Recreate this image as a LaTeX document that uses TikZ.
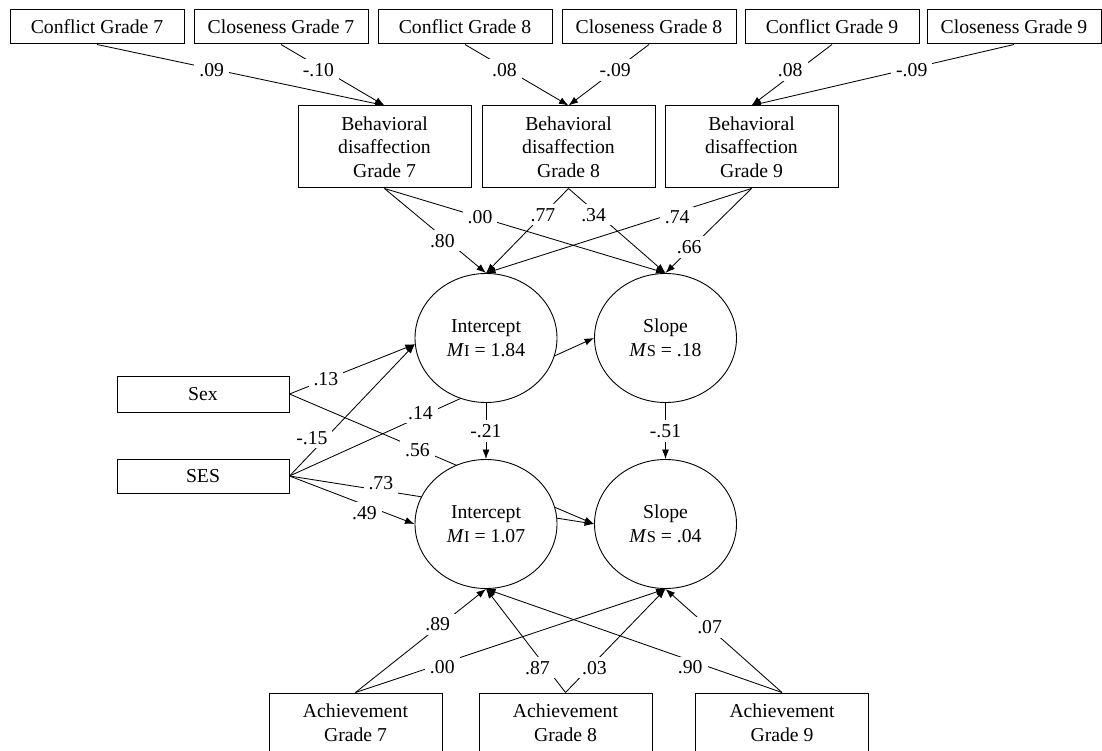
\documentclass[tikz,border=0pt]{standalone}
\usepackage{fontspec}
\setmainfont{Liberation Serif}
\usetikzlibrary{arrows.meta, shapes.geometric, backgrounds}

% small capital after the italic M
\newcommand\subl[1]{{\fontsize{16.5}{18}\selectfont #1}}

\begin{document}
\begin{tikzpicture}[
    x=1pt, y=-1pt, % pixel-like units, y grows downwards
    >={Latex[length=9.5pt, width=7pt]}, % Set default arrow tip style
    font=\fontsize{19.7}{23.5}\selectfont,
    obs/.style={draw, line width=1pt, fill=white, minimum width=174pt,
        minimum height=34pt, inner sep=0pt, align=center}, % observed variables
    tallobs/.style={obs, minimum width=173pt, minimum height=82pt}, % three-line boxes
    latent/.style={draw, ellipse, line width=0.9pt, fill=white, minimum width=142pt,
        minimum height=129pt, inner sep=0pt, align=center}, % growth factors
    link/.style={->, line width=0.85pt}, % Style for paths
    coef/.style={fill=white, inner xsep=5pt, inner ysep=4pt} % Style for coefficients
]
    \useasboundingbox (0,0) rectangle (1102,751);

    % Teacher-student relationship, top row
    \foreach \name/\x/\txt in {cf7/97/Conflict Grade 7, cl7/281/Closeness Grade 7,
        cf8/465/Conflict Grade 8, cl8/649/Closeness Grade 8,
        cf9/832/Conflict Grade 9, cl9/1014/Closeness Grade 9} {
        \node[obs] (\name) at (\x,27) {\txt};
    }

    % Behavioral disaffection
    \foreach \name/\x/\g in {bd7/384.5/7, bd8/568.5/8, bd9/751.5/9} {
        \node[tallobs] (\name) at (\x,147) {Behavioral\\disaffection\\Grade \g};
    }

    % Growth factors
    \node[latent] (upInt) at (486,338) {Intercept\\\textit{M}\subl{I} = 1.84};
    \node[latent] (upSlo) at (665.5,338) {Slope\\\textit{M}\subl{S} = .18};
    \node[latent] (lowInt) at (486,524) {Intercept\\\textit{M}\subl{I} = 1.07};
    \node[latent] (lowSlo) at (665.5,524) {Slope\\\textit{M}\subl{S} = .04};

    % Covariates
    \node[obs, minimum width=172pt, minimum height=36pt] (sex) at (203,394) {Sex};
    \node[obs, minimum width=172pt] (ses) at (203,476) {SES};

    % Achievement, cut by the page edge
    \foreach \name/\x/\g in {ag7/355.5/7, ag8/565.5/8, ag9/782/9} {
        \node[obs, minimum width=173pt, minimum height=60pt] (\name) at (\x,723) {Achievement\\Grade \g};
    }

    \begin{scope}[on background layer]
        % relationship -> disaffection (label shifts dx/dy in pt)
        \foreach \from/\to/\p/\val/\dx/\dy in {cf7/bd7/.42/.09/-6/0, cl7/bd7/.42/-.10/-6/0,
            cf8/bd8/.42/.08/-4/0, cl8/bd8/.42/-.09/0/0,
            cf9/bd9/.42/.08/-8/0, cl9/bd9/.42/-.09/8/0} {
            \draw[link] (\from.south) -- node[coef, pos=\p, xshift=\dx pt, yshift=\dy pt] {\val} (\to.north);
        }

        % disaffection -> first growth model
        \foreach \from/\to/\p/\val/\dx/\dy in {bd7/upInt/.57/.80/0/-4, bd7/upSlo/.34/.00/0/0,
            bd8/upInt/.31/.77/0/0, bd8/upSlo/.31/.34/-5/0,
            bd9/upInt/.28/.74/0/-5, bd9/upSlo/.69/.66/-3/0} {
            \draw[link] (\from.south) -- node[coef, pos=\p, xshift=\dx pt, yshift=\dy pt] {\val} (\to.north);
        }

        % achievement -> second growth model
        \foreach \from/\to/\p/\val/\dx/\dy in {ag7/lowInt/.63/.89/0/3, ag7/lowSlo/.28/.00/0/-4,
            ag8/lowInt/.24/.87/-9/0, ag8/lowSlo/.24/.03/5/0,
            ag9/lowInt/.31/.90/0/-7, ag9/lowSlo/.63/.07/1/0} {
            \draw[link] (\from.north) -- node[coef, pos=\p, xshift=\dx pt, yshift=\dy pt] {\val} (\to.south);
        }

        % covariates (paths run behind the ellipses)
        \foreach \from/\to/\p/\val/\dx/\dy in {sex/upInt.185/.29/.13/0/0,
            sex/lowSlo.west/.42/.56/0/-2,
            ses/upInt.185/.29/-.15/-14/0, ses/upSlo.west/.43/.14/0/4,
            ses/lowSlo.west/.30/.73/0/7, ses/lowInt.west/.60/.49/0/-8} {
            \draw[link] (\from.east) -- node[coef, pos=\p, xshift=\dx pt, yshift=\dy pt] {\val} (\to);
        }

        % between the two models
        \draw[link] (upInt.south) -- node[coef] {-.21} (lowInt.north);
        \draw[link] (upSlo.south) -- node[coef] {-.51} (lowSlo.north);
    \end{scope}

\end{tikzpicture}
\end{document}
